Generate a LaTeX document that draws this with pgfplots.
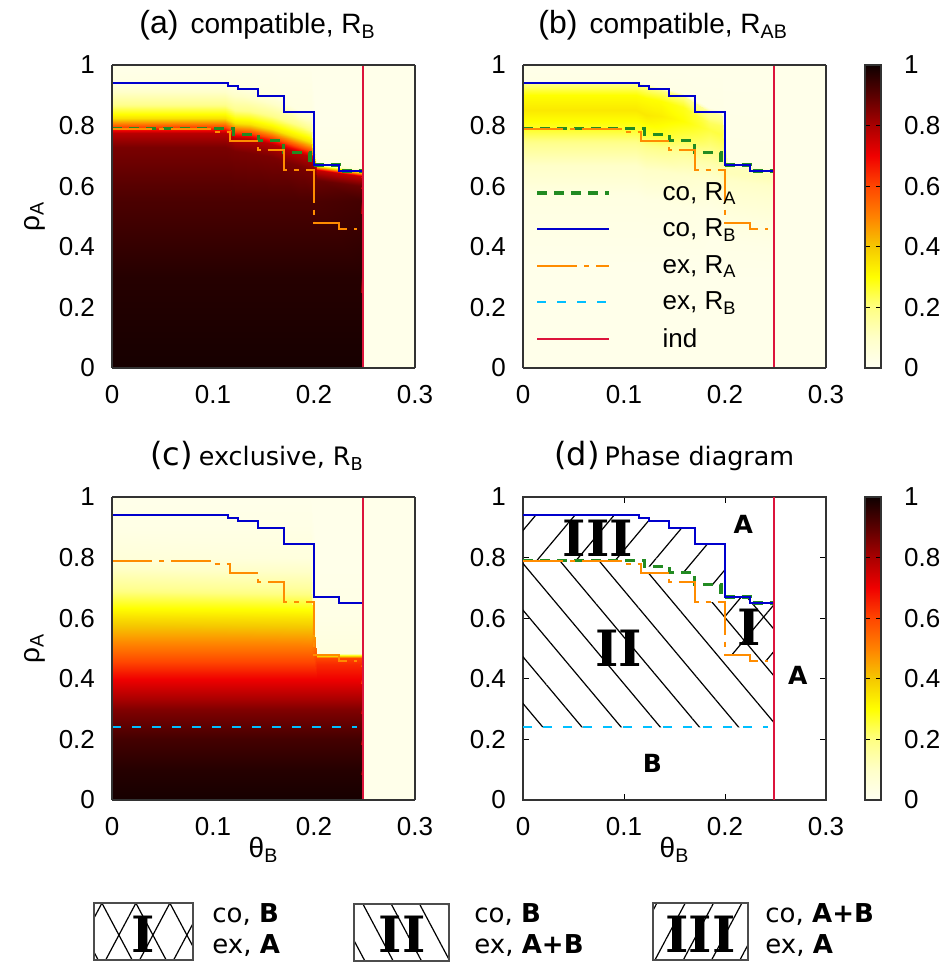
\documentclass[border=0pt]{standalone}
\usepackage{fontspec}
\setmainfont{Liberation Sans}
\newfontfamily\dvs{DejaVu Sans}
\newfontfamily\dvserif{DejaVu Serif}
\usepackage{pgfplots}
\usepackage{pgfplotstable}
\pgfplotsset{compat=1.18}
\usetikzlibrary{patterns.meta}

\definecolor{cgreen}{RGB}{34,139,34}
\definecolor{cblue}{RGB}{0,0,205}
\definecolor{corange}{RGB}{255,140,0}
\definecolor{ccyan}{RGB}{0,191,255}
\definecolor{cred}{RGB}{220,20,60}

\newcommand\tk{\fontsize{13}{15}\selectfont}
\newcommand\numfont{\dvserif\bfseries\fontsize{25}{27}\selectfont}

\tikzset{
  coA/.style={draw=cgreen, line width=1.6pt, dash pattern=on 5pt off 3.5pt},
  coB/.style={draw=cblue, line width=1pt},
  exA/.style={draw=corange, line width=1pt, dash pattern=on 20pt off 3.5pt on 2.5pt off 3.5pt},
  exB/.style={draw=ccyan, line width=1pt, dash pattern=on 4.5pt off 5.5pt},
  indl/.style={draw=cred, line width=1pt},
}

\pgfplotsset{
  colormap={hotr}{rgb255=(255,255,242) rgb255=(255,255,200) rgb255=(255,255,130)
    rgb255=(255,255,0) rgb255=(245,200,0) rgb255=(255,130,0) rgb255=(255,70,0)
    rgb255=(240,0,0) rgb255=(170,0,0) rgb255=(90,0,0) rgb255=(15,0,0)},
  base/.style={
    scale only axis, width=151.5pt, height=151.5pt, anchor=north west,
    xmin=0, xmax=0.3, ymin=0, ymax=1,
    xtick={0,0.1,0.2,0.3}, ytick={0,0.2,0.4,0.6,0.8,1},
    tick align=inside, major tick length=3pt,
    axis line style={line width=0.6pt, black!80},
    every tick/.style={line width=0.5pt, black},
    tick label style={font=\tk},
    label style={font=\fontsize{14}{16}\selectfont},
    /pgf/number format/assume math mode=true,
    xticklabel style={yshift=-5pt},
    yticklabel style={xshift=-5pt},
    colormap name=hotr, point meta min=0, point meta max=1,
    ylabel style={at={(axis description cs:-0.255,0.5)}, anchor=center},
    xlabel style={at={(axis description cs:0.5,-0.165)}, anchor=center},
    legend image code/.code={\draw[#1] (0pt,0pt) -- (36pt,0pt);},
  },
  heat/.style={base, view={0}{90}, axis on top, major tick length=0pt, ztick=\empty},
  cbar/.style={colorbar, colorbar shift/.style={},
    colorbar style={at={(parent axis.north east)}, anchor=north west, xshift=19.5pt,
      width=8pt, ytick={0,0.2,0.4,0.6,0.8,1}, ytick pos=both, yticklabel pos=right,
      tick align=inside, major tick length=2.5pt, axis on top,
      axis line style={line width=0.6pt, black!80},
      every tick/.style={line width=0.5pt, black},
      yticklabel style={font=\tk, xshift=8pt},
      /pgf/number format/assume math mode=true}},
}

% boundaries: co R_B, co R_A, ex R_A, ex R_B, independent
\pgfplotstableread{
t r z
0 0.94 0
0.115 0.94 0
0.115 0.931 0
0.125 0.931 0
0.125 0.92 0
0.145 0.92 0
0.145 0.899 0
0.17 0.899 0
0.17 0.844 0
0.2 0.844 0
0.2 0.669 0
0.225 0.669 0
0.225 0.65 0
0.249 0.65 0
}\coBdata
\pgfplotstableread{
t r z
0 0.79 0
0.12 0.79 0
0.12 0.77 0
0.145 0.77 0
0.145 0.751 0
0.17 0.751 0
0.17 0.71 0
0.196 0.71 0
0.196 0.67 0
0.225 0.67 0
0.225 0.65 0
0.249 0.65 0
}\coAdata
\pgfplotstableread{
t r z
0 0.79 0
0.1 0.79 0
0.1 0.779 0
0.117 0.779 0
0.117 0.75 0
0.145 0.75 0
0.145 0.72 0
0.17 0.72 0
0.17 0.653 0
0.2 0.653 0
0.2 0.48 0
0.225 0.48 0
0.225 0.46 0
0.243 0.46 0
}\exAdata
\pgfplotstableread{
t r z
0 0.24 0
0.243 0.24 0
}\exBdata
\pgfplotstableread{
t r z
0.249 0 0
0.249 1 0
}\inddata

% (a) compatible, R_B
\pgfplotstableread{
t r c
0 0 0.99
0 0.3 0.97
0 0.55 0.92
0 0.73 0.86
0 0.775 0.78
0 0.795 0.6
0 0.825 0.35
0 0.87 0.18
0 0.94 0.04
0 1 0.02
0.112 0 0.99
0.112 0.3 0.97
0.112 0.55 0.92
0.112 0.73 0.86
0.112 0.775 0.78
0.112 0.795 0.6
0.112 0.825 0.35
0.112 0.87 0.18
0.112 0.94 0.04
0.112 1 0.02
0.122 0 0.99
0.122 0.3 0.97
0.122 0.55 0.92
0.122 0.715 0.86
0.122 0.76 0.78
0.122 0.78 0.6
0.122 0.81 0.35
0.122 0.855 0.18
0.122 0.93 0.04
0.122 1 0.02
0.137 0 0.99
0.137 0.3 0.97
0.137 0.55 0.92
0.137 0.71 0.86
0.137 0.755 0.78
0.137 0.775 0.6
0.137 0.805 0.35
0.137 0.85 0.18
0.137 0.92 0.04
0.137 1 0.02
0.158 0 0.99
0.158 0.3 0.97
0.158 0.55 0.92
0.158 0.695 0.86
0.158 0.74 0.78
0.158 0.76 0.6
0.158 0.79 0.35
0.158 0.835 0.18
0.158 0.9 0.04
0.158 1 0.02
0.185 0 0.99
0.185 0.3 0.97
0.185 0.55 0.92
0.185 0.665 0.86
0.185 0.71 0.78
0.185 0.73 0.6
0.185 0.76 0.35
0.185 0.805 0.18
0.185 0.85 0.04
0.185 1 0.02
0.197 0 0.99
0.197 0.3 0.97
0.197 0.55 0.92
0.197 0.65 0.86
0.197 0.695 0.78
0.197 0.715 0.6
0.197 0.745 0.35
0.197 0.79 0.18
0.197 0.84 0.04
0.197 1 0.02
0.203 0 0.99
0.203 0.3 0.97
0.203 0.55 0.92
0.203 0.62 0.88
0.203 0.655 0.76
0.203 0.672 0.1
0.203 0.68 0.04
0.203 0.7 0.03
0.203 0.8 0.02
0.203 1 0.02
0.247 0 0.99
0.247 0.3 0.97
0.247 0.55 0.93
0.247 0.6 0.88
0.247 0.635 0.76
0.247 0.652 0.1
0.247 0.66 0.04
0.247 0.7 0.03
0.247 0.8 0.02
0.247 1 0.02
0.2495 0 0.02
0.2495 0.3 0.02
0.2495 0.55 0.02
0.2495 0.6 0.02
0.2495 0.635 0.02
0.2495 0.652 0.02
0.2495 0.66 0.02
0.2495 0.7 0.02
0.2495 0.8 0.02
0.2495 1 0.02
0.3 0 0.02
0.3 0.3 0.02
0.3 0.55 0.02
0.3 0.6 0.02
0.3 0.635 0.02
0.3 0.652 0.02
0.3 0.66 0.02
0.3 0.7 0.02
0.3 0.8 0.02
0.3 1 0.02
}\heatA

% (b) compatible, R_AB
\pgfplotstableread{
t r c
0 0 0.02
0 0.35 0.02
0 0.57 0.04
0 0.67 0.1
0 0.74 0.18
0 0.79 0.27
0 0.85 0.34
0 0.9 0.3
0 0.936 0.2
0 0.948 0.03
0 1 0.02
0.112 0 0.02
0.112 0.35 0.02
0.112 0.57 0.04
0.112 0.67 0.1
0.112 0.74 0.18
0.112 0.79 0.27
0.112 0.85 0.34
0.112 0.9 0.3
0.112 0.936 0.2
0.112 0.948 0.03
0.112 1 0.02
0.122 0 0.02
0.122 0.35 0.02
0.122 0.555 0.04
0.122 0.655 0.1
0.122 0.725 0.18
0.122 0.775 0.27
0.122 0.835 0.34
0.122 0.89 0.3
0.122 0.926 0.2
0.122 0.938 0.03
0.122 1 0.02
0.137 0 0.02
0.137 0.35 0.02
0.137 0.55 0.04
0.137 0.65 0.1
0.137 0.72 0.18
0.137 0.77 0.27
0.137 0.83 0.33
0.137 0.88 0.3
0.137 0.916 0.2
0.137 0.928 0.03
0.137 1 0.02
0.158 0 0.02
0.158 0.35 0.02
0.158 0.535 0.04
0.158 0.635 0.09
0.158 0.705 0.16
0.158 0.755 0.24
0.158 0.815 0.3
0.158 0.86 0.28
0.158 0.896 0.19
0.158 0.908 0.03
0.158 1 0.02
0.185 0 0.02
0.185 0.35 0.02
0.185 0.505 0.03
0.185 0.605 0.07
0.185 0.675 0.14
0.185 0.725 0.2
0.185 0.785 0.25
0.185 0.81 0.23
0.185 0.846 0.16
0.185 0.858 0.03
0.185 1 0.02
0.197 0 0.02
0.197 0.35 0.02
0.197 0.49 0.03
0.197 0.59 0.07
0.197 0.66 0.14
0.197 0.71 0.2
0.197 0.77 0.25
0.197 0.8 0.23
0.197 0.836 0.16
0.197 0.848 0.03
0.197 1 0.02
0.203 0 0.02
0.203 0.3 0.02
0.203 0.42 0.03
0.203 0.5 0.05
0.203 0.58 0.08
0.203 0.62 0.1
0.203 0.645 0.12
0.203 0.66 0.12
0.203 0.666 0.11
0.203 0.68 0.03
0.203 1 0.02
0.247 0 0.02
0.247 0.3 0.02
0.247 0.4 0.03
0.247 0.48 0.05
0.247 0.56 0.08
0.247 0.6 0.1
0.247 0.625 0.12
0.247 0.64 0.12
0.247 0.646 0.11
0.247 0.66 0.03
0.247 1 0.02
0.2495 0 0.02
0.2495 0.3 0.02
0.2495 0.4 0.02
0.2495 0.48 0.02
0.2495 0.56 0.02
0.2495 0.6 0.02
0.2495 0.625 0.02
0.2495 0.64 0.02
0.2495 0.646 0.02
0.2495 0.66 0.02
0.2495 1 0.02
0.3 0 0.02
0.3 0.3 0.02
0.3 0.4 0.02
0.3 0.48 0.02
0.3 0.56 0.02
0.3 0.6 0.02
0.3 0.625 0.02
0.3 0.64 0.02
0.3 0.646 0.02
0.3 0.66 0.02
0.3 1 0.02
}\heatB

% (c) exclusive, R_B
\pgfplotstableread{
t r c
0 0 0.99
0 0.1 0.97
0 0.2 0.93
0 0.3 0.85
0 0.4 0.7
0 0.5 0.52
0 0.6 0.36
0 0.7 0.18
0 0.8 0.06
0 0.9 0.03
0 1 0.02
0.197 0 0.99
0.197 0.1 0.97
0.197 0.2 0.93
0.197 0.3 0.85
0.197 0.4 0.7
0.197 0.5 0.52
0.197 0.6 0.35
0.197 0.7 0.16
0.197 0.8 0.05
0.197 0.9 0.03
0.197 1 0.02
0.203 0 0.99
0.203 0.1 0.97
0.203 0.2 0.93
0.203 0.3 0.85
0.203 0.4 0.7
0.203 0.45 0.64
0.203 0.47 0.6
0.203 0.485 0.05
0.203 0.6 0.03
0.203 0.8 0.02
0.203 1 0.02
0.247 0 0.99
0.247 0.1 0.97
0.247 0.2 0.93
0.247 0.3 0.85
0.247 0.4 0.7
0.247 0.45 0.64
0.247 0.47 0.6
0.247 0.485 0.05
0.247 0.6 0.03
0.247 0.8 0.02
0.247 1 0.02
0.2495 0 0.02
0.2495 0.1 0.02
0.2495 0.2 0.02
0.2495 0.3 0.02
0.2495 0.4 0.02
0.2495 0.45 0.02
0.2495 0.47 0.02
0.2495 0.485 0.02
0.2495 0.6 0.02
0.2495 0.8 0.02
0.2495 1 0.02
0.3 0 0.02
0.3 0.1 0.02
0.3 0.2 0.02
0.3 0.3 0.02
0.3 0.4 0.02
0.3 0.45 0.02
0.3 0.47 0.02
0.3 0.485 0.02
0.3 0.6 0.02
0.3 0.8 0.02
0.3 1 0.02
}\heatC

\begin{document}
\begin{tikzpicture}
\path[use as bounding box] (0,0) rectangle (475pt,483.5pt);

% (a)
\begin{axis}[heat, at={(56pt,451pt)}, ylabel={ρ\textsubscript{A}}]
\addplot3[surf, shader=interp, mesh/ordering=y varies, mesh/rows=10, mesh/cols=11, forget plot]
  table[x=t, y=r, z=c] {\heatA};
\addplot3[coA] table[x=t, y=r, z=z] {\coAdata};
\addplot3[coB] table[x=t, y=r, z=z] {\coBdata};
\addplot3[exA] table[x=t, y=r, z=z] {\exAdata};
\addplot3[indl] table[x=t, y=r, z=z] {\inddata};
\end{axis}

% (b)
\begin{axis}[heat, cbar, at={(261.5pt,451pt)},
  legend style={at={(axis description cs:0.02,0.64)}, anchor=north west, draw=none, fill=none,
    font=\tk, row sep=3.8pt,
    /tikz/every odd column/.append style={column sep=24pt}},
  legend cell align=left]
\addplot3[surf, shader=interp, mesh/ordering=y varies, mesh/rows=11, mesh/cols=11, forget plot]
  table[x=t, y=r, z=c] {\heatB};
\addplot3[coA] table[x=t, y=r, z=z] {\coAdata};
\addlegendentry{co, R\textsubscript{A}}
\addplot3[coB] table[x=t, y=r, z=z] {\coBdata};
\addlegendentry{co, R\textsubscript{B}}
\addplot3[exA] table[x=t, y=r, z=z] {\exAdata};
\addlegendentry{ex, R\textsubscript{A}}
\addlegendimage{exB}
\addlegendentry{ex, R\textsubscript{B}}
\addplot3[indl] table[x=t, y=r, z=z] {\inddata};
\addlegendentry{ind}
\end{axis}

% (c)
\begin{axis}[heat, at={(56pt,235pt)}, ylabel={ρ\textsubscript{A}}, xlabel={θ\textsubscript{B}}]
\addplot3[surf, shader=interp, mesh/ordering=y varies, mesh/rows=11, mesh/cols=6, forget plot]
  table[x=t, y=r, z=c] {\heatC};
\addplot3[coB] table[x=t, y=r, z=z] {\coBdata};
\addplot3[exA] table[x=t, y=r, z=z] {\exAdata};
\addplot3[exB] table[x=t, y=r, z=z] {\exBdata};
\addplot3[indl] table[x=t, y=r, z=z] {\inddata};
\end{axis}

% (d) phase diagram
\begin{axis}[base, cbar, at={(261.5pt,235pt)}, xlabel={θ\textsubscript{B}}]
% region II (and I): \ hatch
\addplot[draw=none, pattern={Lines[angle=-50, distance=15pt, line width=0.6pt]}, forget plot]
  coordinates {(0,0.24) (0.249,0.24) (0.249,0.65) (0.225,0.65) (0.225,0.67) (0.2,0.67)
  (0.2,0.653) (0.17,0.653) (0.17,0.72) (0.145,0.72) (0.145,0.75) (0.117,0.75)
  (0.117,0.779) (0.1,0.779) (0.1,0.79) (0,0.79)};
% region III: / hatch
\addplot[draw=none, pattern={Lines[angle=50, distance=15pt, line width=0.6pt]}, forget plot]
  coordinates {(0,0.79) (0.12,0.79) (0.12,0.77) (0.145,0.77) (0.145,0.751) (0.17,0.751)
  (0.17,0.71) (0.196,0.71) (0.196,0.67) (0.2,0.67) (0.2,0.844) (0.17,0.844) (0.17,0.899)
  (0.145,0.899) (0.145,0.92) (0.125,0.92) (0.125,0.931) (0.115,0.931) (0.115,0.94) (0,0.94)};
% region I: / hatch on top of \ hatch
\addplot[draw=none, pattern={Lines[angle=50, distance=15pt, line width=0.6pt]}, forget plot]
  coordinates {(0.2,0.48) (0.225,0.48) (0.225,0.46) (0.249,0.46) (0.249,0.65) (0.225,0.65)
  (0.225,0.67) (0.2,0.67)};
\addplot[coA] table[x=t, y=r] {\coAdata};
\addplot[coB] table[x=t, y=r] {\coBdata};
\addplot[exA] table[x=t, y=r] {\exAdata};
\addplot[exB] table[x=t, y=r] {\exBdata};
\addplot[indl] table[x=t, y=r] {\inddata};
\node[font=\numfont] at (axis cs:0.074,0.865) {III};
\node[font=\numfont] at (axis cs:0.095,0.5) {II};
\node[font=\numfont] at (axis cs:0.224,0.57) {I};
\node[font=\dvs\bfseries\fontsize{12.5}{14}\selectfont] at (axis cs:0.218,0.91) {A};
\node[font=\dvs\bfseries\fontsize{12.5}{14}\selectfont] at (axis cs:0.272,0.41) {A};
\node[font=\dvs\bfseries\fontsize{12.5}{14}\selectfont] at (axis cs:0.128,0.12) {B};
\end{axis}

% titles
\node[anchor=base west, inner sep=0pt] at (69.5pt,466.5pt)
  {{\fontsize{16}{18}\selectfont (a)}\hspace{6pt}{\fontsize{14}{16}\selectfont compatible, R\textsubscript{B}}};
\node[anchor=base west, inner sep=0pt] at (269pt,466.5pt)
  {{\fontsize{16}{18}\selectfont (b)}\hspace{6pt}{\fontsize{14}{16}\selectfont compatible, R\textsubscript{AB}}};
\node[anchor=base west, inner sep=0pt, font=\dvs] at (75pt,250.5pt)
  {{\fontsize{16}{18}\selectfont (c)}\hspace{3pt}{\fontsize{12.7}{15}\selectfont exclusive, R\textsubscript{B}}};
\node[anchor=base west, inner sep=0pt, font=\dvs] at (277pt,250.5pt)
  {{\fontsize{16}{18}\selectfont (d)}\hspace{2.5pt}{\fontsize{12.7}{15}\selectfont Phase diagram}};

% key of the phase regions
\draw[black!70, line width=0.7pt, pattern={Lines[angle=62, distance=15pt, line width=0.6pt]}]
  (47pt,3.5pt) rectangle (96.5pt,32pt);
\draw[black!70, line width=0.7pt, pattern={Lines[angle=-62, distance=15pt, line width=0.6pt]}]
  (47pt,3.5pt) rectangle (96.5pt,32pt);
\draw[black!70, line width=0.7pt, pattern={Lines[angle=-62, distance=12.5pt, line width=0.6pt]}]
  (177pt,3pt) rectangle (224.5pt,31.5pt);
\draw[black!70, line width=0.7pt, pattern={Lines[angle=62, distance=12.5pt, line width=0.6pt]}]
  (326.5pt,3.5pt) rectangle (374pt,32pt);
\node[font=\numfont] at (71.75pt,16.5pt) {I};
\node[font=\numfont] at (201pt,16.5pt) {II};
\node[font=\numfont] at (350.25pt,16.5pt) {III};
\begin{scope}[every node/.style={anchor=west, inner sep=0pt, font=\dvs\fontsize{13}{15}\selectfont}]
\node at (106pt,26pt) {co, \textbf{B}};
\node at (106pt,10.5pt) {ex, \textbf{A}};
\node at (237pt,26pt) {co, \textbf{B}};
\node at (237pt,10.5pt) {ex, \textbf{A+B}};
\node at (382.5pt,26pt) {co, \textbf{A+B}};
\node at (382.5pt,10.5pt) {ex, \textbf{A}};
\end{scope}
\end{tikzpicture}
\end{document}
